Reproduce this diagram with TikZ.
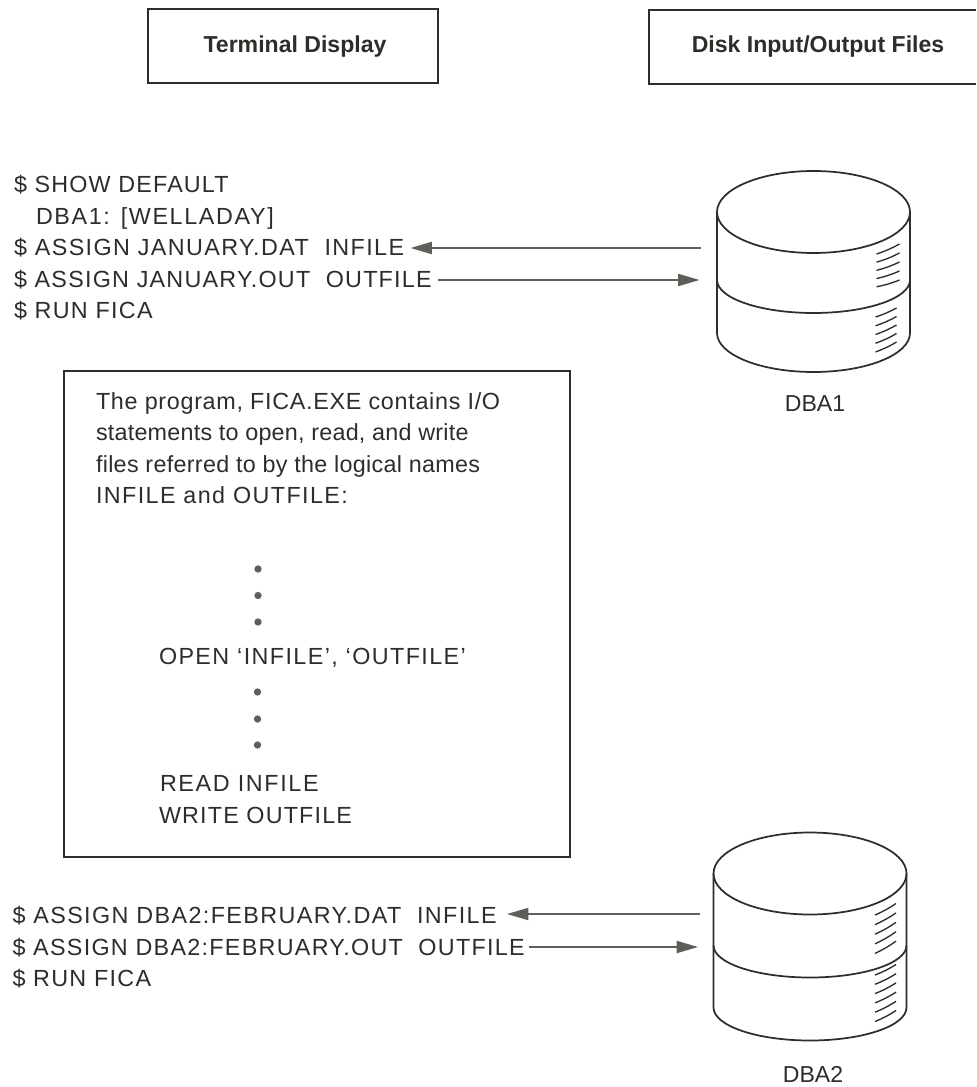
\documentclass[tikz,border=0pt]{standalone}
\usepackage{fontspec}
\setmainfont{Liberation Sans}
\usetikzlibrary{arrows.meta}
\definecolor{ink}{RGB}{45,45,42}
\definecolor{arrowink}{RGB}{95,95,90}
\newcommand{\ls}[1]{\addfontfeature{LetterSpace=#1}}
\tikzset{
  x=0.75pt,y=-0.75pt,
  box/.style={draw=ink,line width=1.4pt,inner sep=0pt},
  head/.style={font=\fontsize{17.3}{20}\selectfont\bfseries,text=ink,anchor=base,inner sep=0pt},
  code/.style={font=\fontsize{17.5}{20}\selectfont,text=ink,anchor=base west,inner sep=0pt,outer sep=0pt},
  disklabel/.style={font=\fontsize{17.3}{20}\selectfont,text=ink,anchor=base,inner sep=0pt},
  flow/.style={draw=arrowink,line width=1.4pt,-{Triangle[length=16pt,width=9pt]}},
  cyl/.style={draw=ink,line width=1.3pt},
  hatch/.style={draw=ink,line width=1pt},
  dot/.style={circle,fill=arrowink,minimum size=5.5pt,inner sep=0pt}
}
% #1,#2 centre; #3 junction drop; #4 mid arc depth; #5 side end; #6 bottom depth
\newcommand{\diskat}[6]{%
  \begin{scope}[shift={(#1,#2)}]
    \draw[cyl] (0,0) ellipse [x radius=96.5,y radius=41];
    \draw[cyl] (-96.5,0) -- (-96.5,#5) arc [start angle=180,end angle=0,x radius=96.5,y radius=#6] -- (96.5,0);
    \draw[cyl] (-96.5,#3) arc [start angle=180,end angle=0,x radius=96.5,y radius=#4];
  \end{scope}}
\begin{document}
\begin{tikzpicture}
\useasboundingbox (0,0) rectangle (976,1087);
\fill[white] (0,0) rectangle (976,1087);
\node[box,minimum width=290*0.75pt,minimum height=74*0.75pt] (term) at (293,46) {};
\node[head] (termt) at (295,53) {Terminal Display};
\coordinate (dbr1) at (976,10);
\coordinate (dbl1) at (648.6,10);
\coordinate (dbl2) at (648.6,84);
\coordinate (dbr2) at (976,84);
\draw[box] (dbr1) -- (dbl1) -- (dbl2) -- (dbr2);
\node[head] (diskt) at (818,53) {Disk Input/Output Files};

\node[code] (l1) at (14,193) {\ls{5}\$ SHOW DEFAULT};
\node[code] (l2) at (36,225) {\ls{7}DBA1: [WELLADAY]};
\node[code] (l3) at (14,256) {\ls{6}\$ ASSIGN JANUARY.DAT\ \ INFILE};
\node[code] (l4) at (14,287) {\ls{5.3}\$ ASSIGN JANUARY.OUT\ \ OUTFILE};
\node[code] (l5) at (14,318) {\ls{5.5}\$ RUN FICA};

\diskat{813.5}{212}{68}{33}{121}{39}
\begin{scope}[shift={(813.5,212)}]
  \foreach \k in {0,1,2,3,4}{
    \draw[hatch] (63,{42+\k*8.2}) to[bend right=5] (86,{32+\k*9});
    \draw[hatch] (62,{105+\k*8.75}) to[bend right=5] (83,{96+\k*8.5});
  }
\end{scope}
\coordinate (d1a) at (701,248);
\coordinate (d1b) at (699.5,280);
\coordinate (t1a) at (410.5,248);
\coordinate (t1b) at (438,280);
\draw[flow] (d1a) -- (t1a);
\draw[flow] (t1b) -- (d1b);
\node[disklabel] (dba1) at (815,411) {DBA1};

\node[box,minimum width=506*0.75pt,minimum height=486*0.75pt] (prog) at (317,614) {};
\node[code] (p1) at (96,409) {\ls{3}The program, FICA.EXE contains I/O};
\node[code] (p2) at (96,440.5) {\ls{1}statements to open, read, and write};
\node[code] (p3) at (96,472) {\ls{1.3}files referred to by the logical names};
\node[code] (p4) at (96,503.5) {\ls{6}INFILE and OUTFILE:};
\node[dot] (a1) at (258,569) {};
\node[dot] (a2) at (258,595.5) {};
\node[dot] (a3) at (258,622) {};
\node[code] (p5) at (159,664) {\ls{6}OPEN ‘INFILE’, ‘OUTFILE’};
\node[dot] (b1) at (257.5,692) {};
\node[dot] (b2) at (257.5,719) {};
\node[dot] (b3) at (257.5,745) {};
\node[code] (p6) at (160,791) {\ls{7}READ INFILE};
\node[code] (p7) at (159,823) {\ls{5}WRITE OUTFILE};

\node[code] (m1) at (12.5,923) {\ls{6}\$ ASSIGN DBA2:FEBRUARY.DAT\ \ INFILE};
\node[code] (m2) at (12.5,955) {\ls{5.5}\$ ASSIGN DBA2:FEBRUARY.OUT\ \ OUTFILE};
\node[code] (m3) at (12.5,986) {\ls{5.5}\$ RUN FICA};

\diskat{810}{873.5}{72}{32}{134}{33}
\begin{scope}[shift={(810,873.5)}]
  \foreach \k in {0,1,2,3,4}{
    \draw[hatch] (65,{41.5+\k*9.6}) to[bend right=5] (86,{30+\k*9.4});
  }
  \foreach \k in {0,1,2,3,4,5}{
    \draw[hatch] (65,{101.5+\k*9.3}) to[bend right=5] (86,{91+\k*9.2});
  }
\end{scope}
\coordinate (d2a) at (700,914);
\coordinate (d2b) at (698,947);
\coordinate (t2a) at (507,914);
\coordinate (t2b) at (529,947);
\draw[flow] (d2a) -- (t2a);
\draw[flow] (t2b) -- (d2b);
\node[disklabel] (dba2) at (813,1082) {DBA2};
\end{tikzpicture}
\end{document}
